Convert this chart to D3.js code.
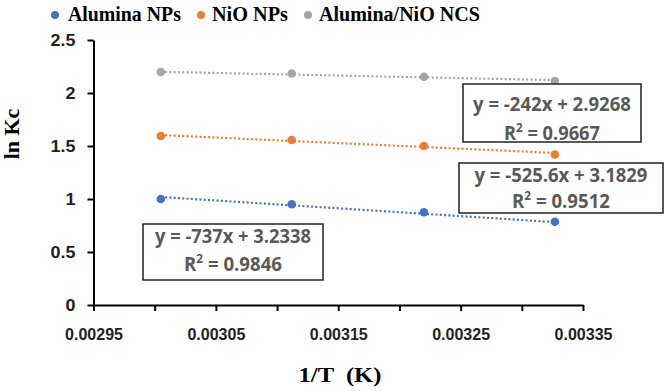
<!DOCTYPE html>
<html lang="en">
<head>
<meta charset="utf-8">
<script src="https://d3js.org/d3.v7.min.js"></script>
<style>
  body { margin: 0; background: #fff; }
  svg { display: block; }
</style>
</head>
<body>
<script>
  // data
  const xValues = [0.003005, 0.003112, 0.00322, 0.003327];
  const seriesNames = ["Alumina NPs", "NiO NPs", "Alumina/NiO NCS"];
  const aluminaVals = [1.00, 0.95, 0.875, 0.786];
  const nioVals = [1.594, 1.556, 1.50, 1.42];
  const ncsVals = [2.198, 2.184, 2.154, 2.113];
  const slopes = [-737, -525.6, -242];
  const intercepts = [3.2338, 3.1829, 2.9268];
  const eqLabels = ["y = -737x + 3.2338", "y = -525.6x + 3.1829", "y = -242x + 2.9268"];
  const r2Labels = ["0.9846", "0.9512", "0.9667"];
  const xTickLabels = [0.00295, 0.00305, 0.00315, 0.00325, 0.00335];
  const yTickLabels = [0, 0.5, 1, 1.5, 2, 2.5];

  const colors = ["#4472C4", "#ED7D31", "#A5A5A5"];
  const series = [aluminaVals, nioVals, ncsVals];

  const W = 664, H = 391;
  const svg = d3.select("body").append("svg")
    .attr("width", W).attr("height", H);

  const x = d3.scaleLinear().domain([0.00295, 0.00335]).range([93.5, 583]);
  const y = d3.scaleLinear().domain([0, 2.5]).range([305, 40]);

  // squeeze/stretch a text horizontally to a given width, around its anchor x
  function fit(sel, target) {
    sel.each(function () {
      const w = this.getComputedTextLength();
      if (!w) return;
      const s = target / w;
      const ax = +d3.select(this).attr("x") || 0;
      d3.select(this).attr("transform", `translate(${ax},0) scale(${s},1) translate(${-ax},0)`);
    });
  }

  // trend lines (dotted)
  series.forEach((vals, i) => {
    const x0 = xValues[0], x1 = xValues[xValues.length - 1];
    svg.append("line")
      .attr("x1", x(x0)).attr("y1", y(slopes[i] * x0 + intercepts[i]))
      .attr("x2", x(x1)).attr("y2", y(slopes[i] * x1 + intercepts[i]))
      .attr("stroke", colors[i])
      .attr("stroke-width", 2.2)
      .attr("stroke-dasharray", "2,2.3");
  });

  // points
  series.forEach((vals, i) => {
    svg.append("g").selectAll("circle")
      .data(vals)
      .enter().append("circle")
      .attr("cx", (d, j) => x(xValues[j]))
      .attr("cy", d => y(d))
      .attr("r", 4.3)
      .attr("fill", colors[i]);
  });

  // axes
  const xAxis = svg.append("g")
    .attr("transform", `translate(0,${y(0)})`)
    .call(d3.axisBottom(x)
      .tickValues(d3.range(0, 9).map(k => 0.00295 + k * 0.00005))
      .tickSize(6).tickSizeOuter(0)
      .tickFormat(d => xTickLabels.some(v => Math.abs(v - d) < 1e-9) ? d3.format(".5f")(d) : ""));
  xAxis.select(".domain").attr("stroke", "#000").attr("stroke-width", 2);
  xAxis.selectAll(".tick line").attr("stroke", "#000").attr("stroke-width", 2);
  const xt = xAxis.selectAll("text")
    .attr("y", 35).attr("dy", 0)
    .style("font-family", "'Liberation Sans', Arial, sans-serif")
    .style("font-weight", "bold").style("font-size", "17px").attr("fill", "#222");
  fit(xt.filter(function () { return this.textContent !== ""; }), 58);

  const yAxis = svg.append("g")
    .attr("transform", `translate(${x(0.00295)},0)`)
    .call(d3.axisLeft(y).tickValues(yTickLabels).tickSize(6).tickSizeOuter(0)
      .tickFormat(d3.format("")));
  yAxis.select(".domain").attr("stroke", "#000").attr("stroke-width", 2);
  yAxis.selectAll(".tick line").attr("stroke", "#000").attr("stroke-width", 2);
  yAxis.selectAll("text")
    .attr("x", -18).attr("dy", "0.36em")
    .style("font-family", "'Liberation Sans', Arial, sans-serif")
    .style("font-weight", "bold").style("font-size", "16px").attr("fill", "#222")
    .each(function () {
      const w = this.getComputedTextLength();
      fit(d3.select(this), w * 1.12);
    });

  // axis titles
  const xTitle = svg.append("text")
    .attr("x", 340).attr("y", 382)
    .attr("text-anchor", "middle")
    .style("font-family", "'Liberation Serif', 'Times New Roman', serif")
    .style("font-weight", "bold").style("font-size", "22px")
    .style("white-space", "pre")
    .text("1/T  (K)");
  fit(xTitle, 83);

  svg.append("text")
    .attr("transform", "translate(19,134) rotate(-90)")
    .attr("text-anchor", "middle")
    .style("font-family", "'Liberation Serif', 'Times New Roman', serif")
    .style("font-weight", "bold").style("font-size", "22px")
    .text("ln Kc");

  // legend
  const legendDot = [55, 201, 308];
  const legendText = [68, 212, 319];
  const legendW = [113, 76, 161];
  seriesNames.forEach((name, i) => {
    svg.append("circle")
      .attr("cx", legendDot[i]).attr("cy", 15).attr("r", 4)
      .attr("fill", colors[i]);
    const t = svg.append("text")
      .attr("x", legendText[i]).attr("y", 21)
      .style("font-family", "'Liberation Serif', 'Times New Roman', serif")
      .style("font-weight", "bold").style("font-size", "21px")
      .text(name);
    fit(t, legendW[i]);
  });

  // equation boxes: [x, y, w, h, baseline1, baseline2, width1, width2]
  const boxes = [
    [143, 224, 180, 56, 19.5, 47.5, 156, 98],
    [459, 163, 204, 50, 19, 45, 173, 98],
    [463, 84, 178, 58, 27, 56, 158, 96]
  ];
  boxes.forEach((b, i) => {
    const g = svg.append("g");
    g.append("rect")
      .attr("x", b[0]).attr("y", b[1]).attr("width", b[2]).attr("height", b[3])
      .attr("fill", "#fff").attr("stroke", "#222").attr("stroke-width", 1.5);
    const cx = b[0] + b[2] / 2;
    const t1 = g.append("text")
      .attr("x", cx).attr("y", b[1] + b[4])
      .attr("text-anchor", "middle")
      .style("font-family", "'Open Sans', 'Liberation Sans', sans-serif")
      .style("font-weight", "bold").style("font-size", "19px")
      .attr("fill", "#595959")
      .text(eqLabels[i]);
    fit(t1, b[6]);
    const t2 = g.append("text")
      .attr("x", cx).attr("y", b[1] + b[5])
      .attr("text-anchor", "middle")
      .style("font-family", "'Open Sans', 'Liberation Sans', sans-serif")
      .style("font-weight", "bold").style("font-size", "19px")
      .attr("fill", "#595959");
    t2.append("tspan").text("R");
    t2.append("tspan").attr("baseline-shift", "super").style("font-size", "12px").text("2");
    t2.append("tspan").text(" = " + r2Labels[i]);
    fit(t2, b[7]);
  });
</script>
</body>
</html>
